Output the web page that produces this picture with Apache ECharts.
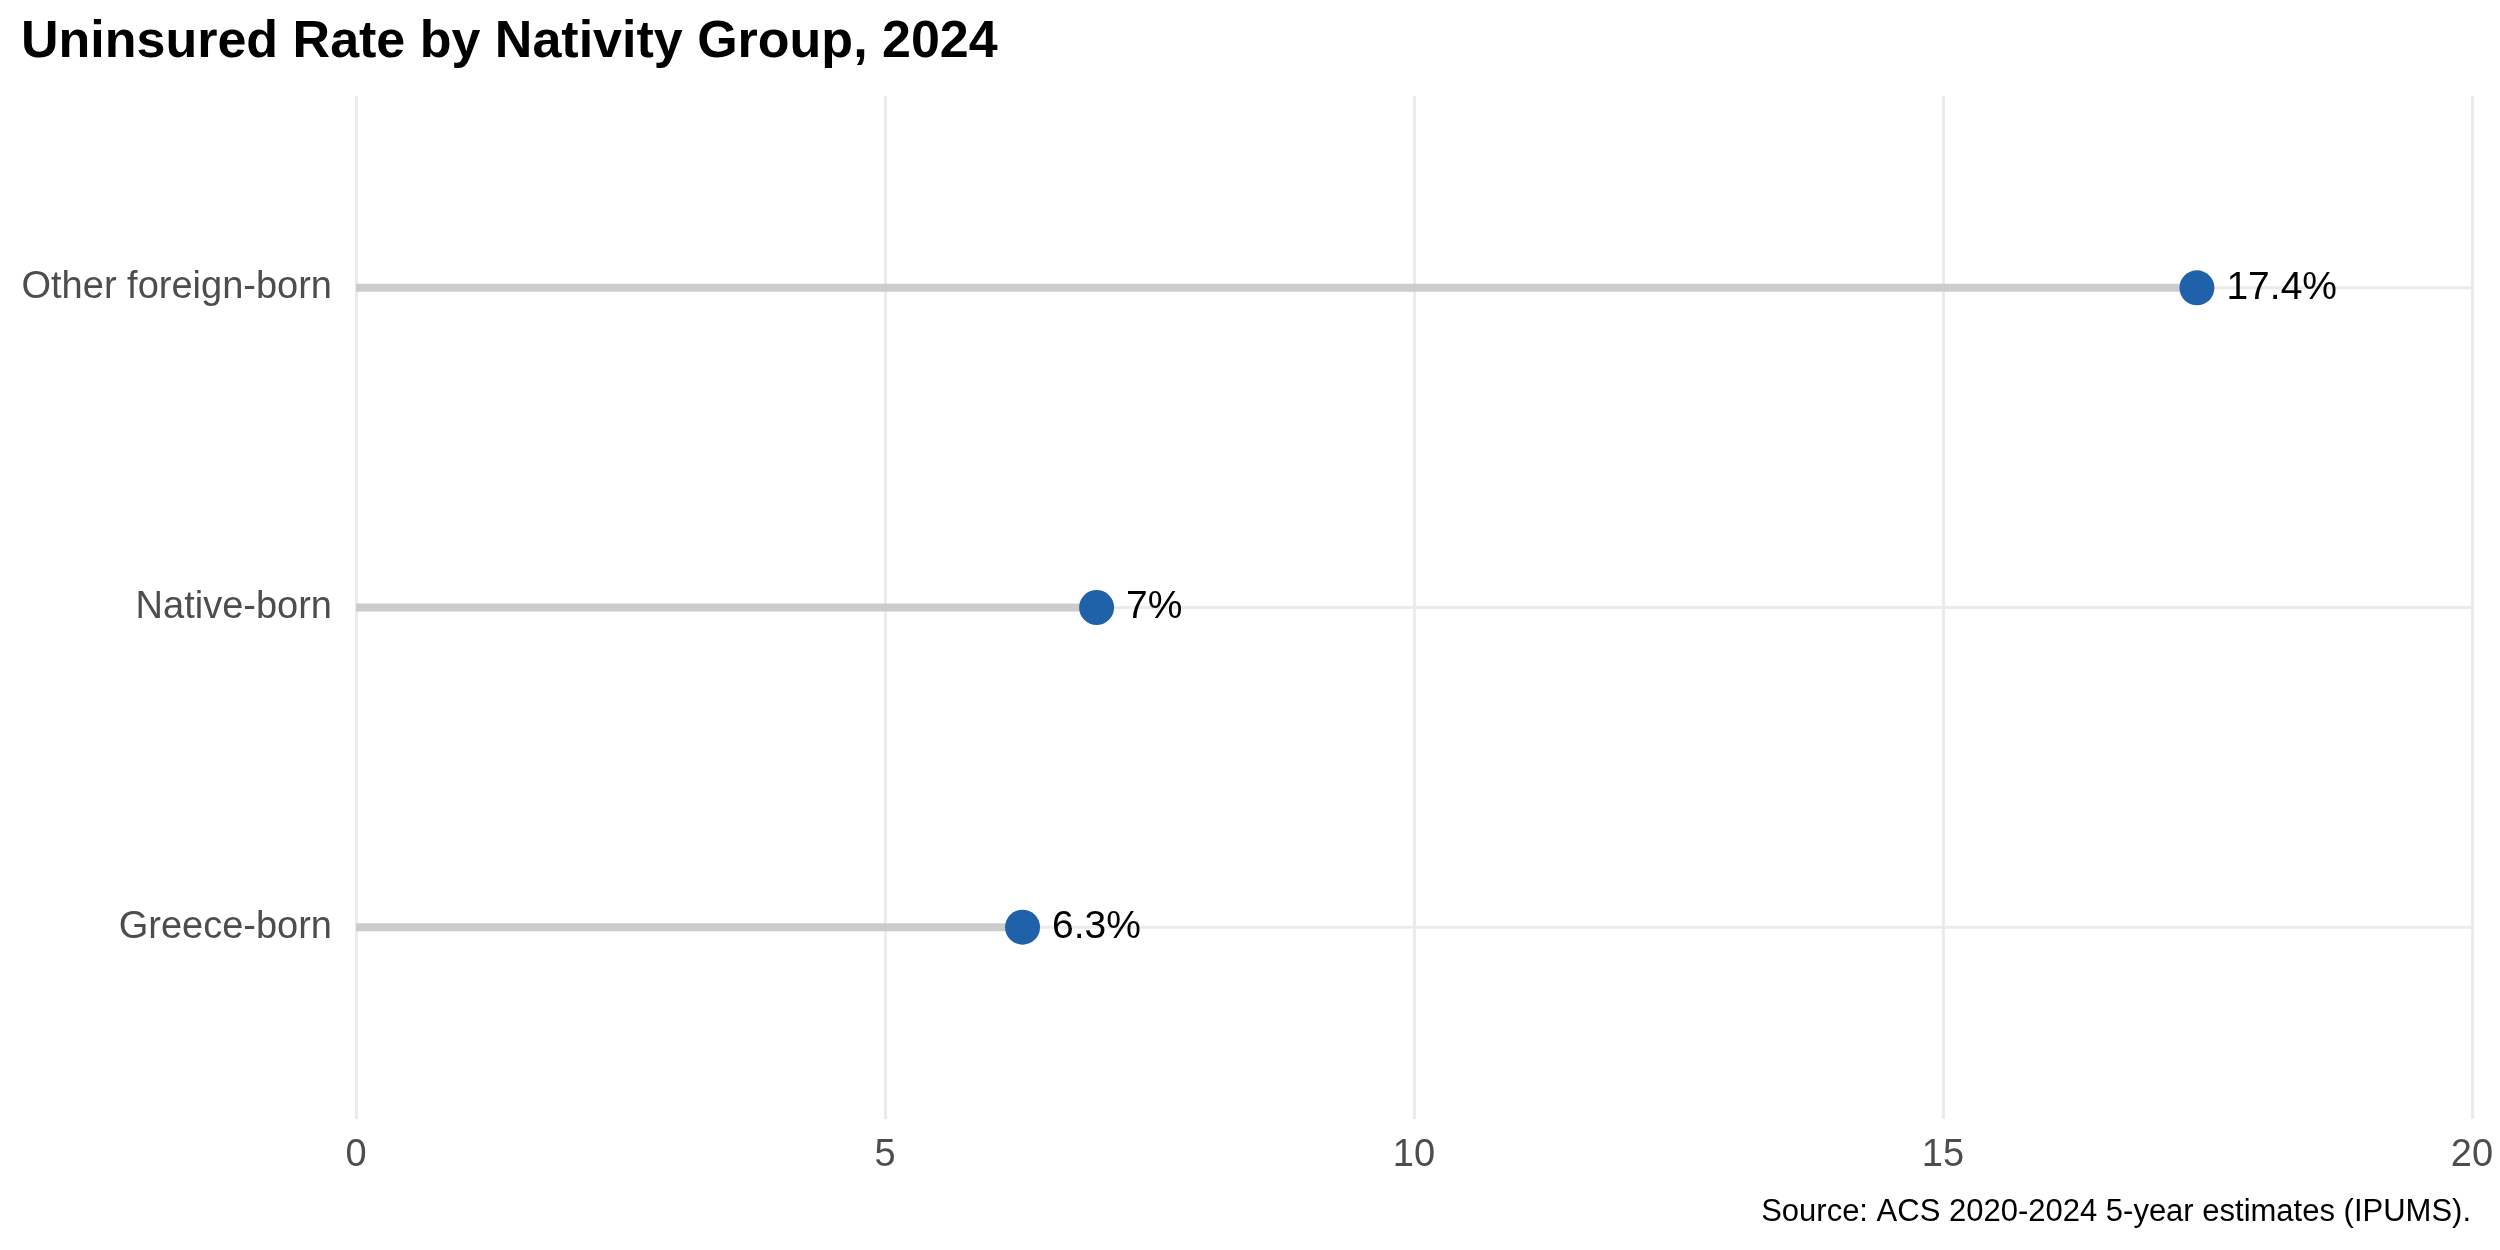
<!DOCTYPE html>
<html>
<head>
<meta charset="utf-8">
<script src="https://cdn.jsdelivr.net/npm/echarts@6/dist/echarts.min.js"></script>
<style>
html,body{margin:0;padding:0;background:#fff;}
#chart{width:2500px;height:1250px;}
</style>
</head>
<body>
<div id="chart"></div>
<script>
// Data (bottom to top)
const categories = ['Greece-born', 'Native-born', 'Other foreign-born'];
const uninsuredRate = [6.3, 7.0, 17.4];
const xTicks = [0, 5, 10, 15, 20];

const titleText = 'Uninsured Rate by Nativity Group, 2024';
const sourceText = 'Source: ACS 2020-2024 5-year estimates (IPUMS).';

const FONT = '"Liberation Sans", Arial, Helvetica, sans-serif';
const pos = categories.map((c, i) => i + 1);
const xMin = xTicks[0], xMax = xTicks[xTicks.length - 1];

const chart = echarts.init(document.getElementById('chart'), null, {renderer: 'canvas'});

// horizontal major gridlines at each category
const gridSeries = categories.map((c, i) => ({
  type: 'line',
  name: 'grid-' + c,
  data: [[xMin, pos[i]], [xMax, pos[i]]],
  symbol: 'none',
  lineStyle: {color: '#ebebeb', width: 3, cap: 'butt'},
  z: 1,
  silent: true
}));

// lollipop stems
const stemSeries = categories.map((c, i) => ({
  type: 'line',
  name: 'stem-' + c,
  data: [[0, pos[i]], [uninsuredRate[i], pos[i]]],
  symbol: 'none',
  lineStyle: {color: '#cccccc', width: 8, cap: 'butt'},
  z: 10,
  silent: true
}));

const option = {
  animation: false,
  backgroundColor: '#ffffff',
  title: [
    {
      text: titleText,
      left: 16,
      top: 12,
      textStyle: {fontFamily: FONT, fontSize: 52, fontWeight: 'bold', color: '#000000'}
    },
    {
      text: sourceText,
      right: 24,
      top: 1192,
      textStyle: {fontFamily: FONT, fontSize: 31, fontWeight: 'normal', color: '#000000'}
    }
  ],
  grid: {left: 356, right: 28, top: 96, bottom: 131, containLabel: false},
  xAxis: {
    type: 'value',
    min: xMin,
    max: xMax,
    interval: 5,
    axisLine: {show: false},
    axisTick: {show: false},
    axisLabel: {fontFamily: FONT, fontSize: 38, color: '#4d4d4d', margin: 18},
    splitLine: {show: true, lineStyle: {color: '#ebebeb', width: 3}}
  },
  yAxis: {
    type: 'value',
    min: 0.4,
    max: 3.6,
    axisLine: {show: false},
    axisTick: {show: false},
    splitLine: {show: false},
    axisLabel: {
      customValues: pos,
      fontFamily: FONT, fontSize: 38, color: '#4d4d4d', margin: 24,
      formatter: v => categories[Math.round(v) - 1] || ''
    }
  },
  series: [
    ...gridSeries,
    ...stemSeries,
    {
      type: 'scatter',
      name: 'points',
      data: uninsuredRate.map((v, i) => [v, pos[i]]),
      symbol: 'circle',
      symbolSize: 35,
      itemStyle: {color: '#2062a9', opacity: 1},
      label: {
        show: true,
        position: 'right',
        distance: 12,
        formatter: p => String(p.value[0]) + '%',
        fontFamily: FONT, fontSize: 39, color: '#000000'
      },
      z: 20
    }
  ]
};

chart.setOption(option);
</script>
</body>
</html>
